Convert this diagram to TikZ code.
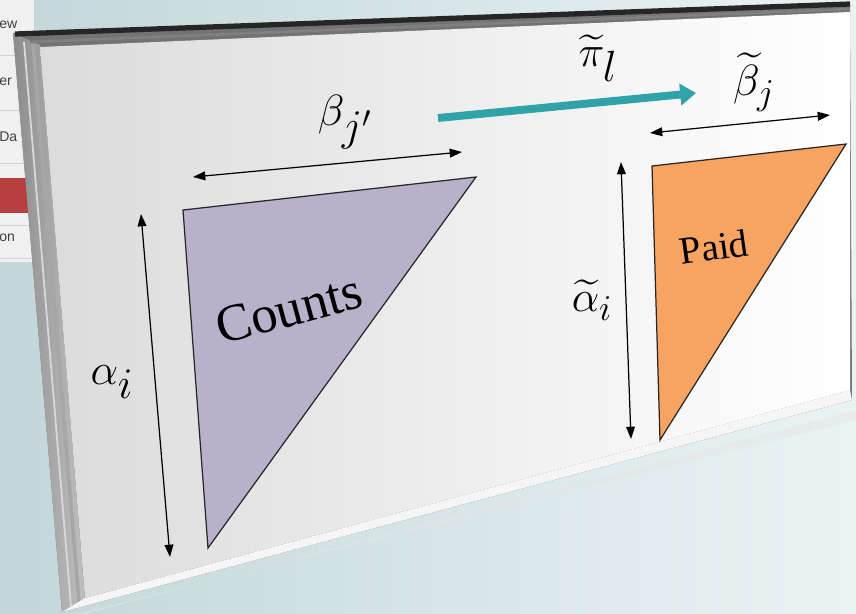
\documentclass[tikz,border=0pt]{standalone}
\usepackage{fontspec}
\usepackage{amsmath}
\usetikzlibrary{arrows.meta}
\newfontfamily\slidefont{Liberation Serif}
\newfontfamily\uifont{Liberation Sans}
\definecolor{countsfill}{HTML}{B9B0C9}
\definecolor{paidfill}{HTML}{F7A462}
\definecolor{tealarrow}{HTML}{2FA3A8}
\definecolor{wallleft}{HTML}{C3D6D9}
\definecolor{wallright}{HTML}{EAF3F4}
\definecolor{uired}{HTML}{B5403F}
\tikzset{
    dimline/.style={{Triangle[length=7pt,width=5pt]}-{Triangle[length=7pt,width=5pt]}, line width=0.7pt, black},
    bigmath/.style={inner sep=0pt, font=\fontsize{38}{38}\selectfont},
    uitext/.style={inner sep=0pt, anchor=west, text=black!75, font=\uifont\fontsize{8}{8}\selectfont},
    tri/.style={draw=black!85, line width=0.7pt}
}

\begin{document}
\begin{tikzpicture}[x=0.02cm, y=-0.02cm]
    \useasboundingbox (0,0) rectangle (856,613);
    \shade[left color=wallleft, right color=wallright] (0,0) rectangle (856,613);
    \fill[black!6] (0,0) rectangle (34,262);
    \fill[uired] (0,178) rectangle (34,213);
    \foreach \yy in {55,110,163,225,258} {
        \draw[black!18] (0,\yy) -- (34,\yy);
    }
    \node[uitext] (ui1) at (-1,25) {ew};
    \node[uitext] (ui2) at (-1,82) {er};
    \node[uitext] (ui3) at (-1,137) {Da};
    \node[uitext] (ui4) at (-1,238) {on};

    \fill[black!10, opacity=0.5] (70,618) -- (856,410) -- (856,420) -- (80,613) -- cycle;
    \fill[black!55] (13,33) -- (850,3) -- (852,400) -- (62,612) -- cycle;
    \shade[left color=black!45, right color=black!25] (13,33) -- (40,45) -- (85,600) -- (62,612) -- cycle;
    \draw[white!85!black, line width=1pt] (24,42) -- (71,606);
    \draw[black!35, line width=2pt] (33,45) -- (79,603);
    \fill[black!4] (85,598) -- (850,390) -- (852,400) -- (62,612) -- cycle;
    \draw[black!85, line width=3pt] (15,34) -- (850,4);
    \draw[black!50, line width=1.5pt] (30,42) -- (850,9);
    \shade[left color=black!14, right color=white] (40,47) -- (850,12) -- (850,390) -- (85,598) -- cycle;

    \coordinate (ca) at (183,210);
    \coordinate (cb) at (476,177);
    \coordinate (cc) at (208,548);
    \filldraw[tri, fill=countsfill] (ca) -- (cb) -- (cc) -- cycle;
    \node[inner sep=0pt, rotate=15, font=\slidefont\fontsize{30}{30}\selectfont] (counts) at (289,309) {Counts};

    \coordinate (pa) at (652,166);
    \coordinate (pb) at (846,144);
    \coordinate (pc) at (660,440);
    \filldraw[tri, fill=paidfill] (pa) -- (pb) -- (pc) -- cycle;
    \node[inner sep=0pt, rotate=8, font=\slidefont\fontsize{22}{22}\selectfont] (paid) at (714,247) {Paid};

    \coordinate (atop) at (141,214);
    \coordinate (abot) at (170,557);
    \draw[dimline] (atop) -- (abot);
    \node[bigmath] (alpha) at (112,382) {$\alpha_i$};

    \coordinate (bleft) at (193,177);
    \coordinate (bright) at (462,152);
    \draw[dimline] (bleft) -- (bright);
    \node[bigmath] (beta) at (345,122) {$\beta_{j'}$};

    \coordinate (ttop) at (621,162);
    \coordinate (tbot) at (631,439);
    \draw[dimline] (ttop) -- (tbot);
    \node[bigmath, font=\fontsize{29}{29}\selectfont] (alphat) at (592,300) {$\widetilde{\alpha}_i$};

    \coordinate (tleft) at (650,133);
    \coordinate (tright) at (830,115);
    \draw[dimline] (tleft) -- (tright);
    \node[bigmath, font=\fontsize{29}{29}\selectfont] (betat) at (754,82) {$\widetilde{\beta}_j$};

    \coordinate (pistart) at (438,118);
    \coordinate (piend) at (696,93);
    \draw[tealarrow, line width=4.5pt, -{Triangle[length=9pt,width=12pt]}] (pistart) -- (piend);
    \node[bigmath, font=\fontsize{33}{33}\selectfont] (pil) at (598,58) {$\widetilde{\pi}_l$};
\end{tikzpicture}
\end{document}
